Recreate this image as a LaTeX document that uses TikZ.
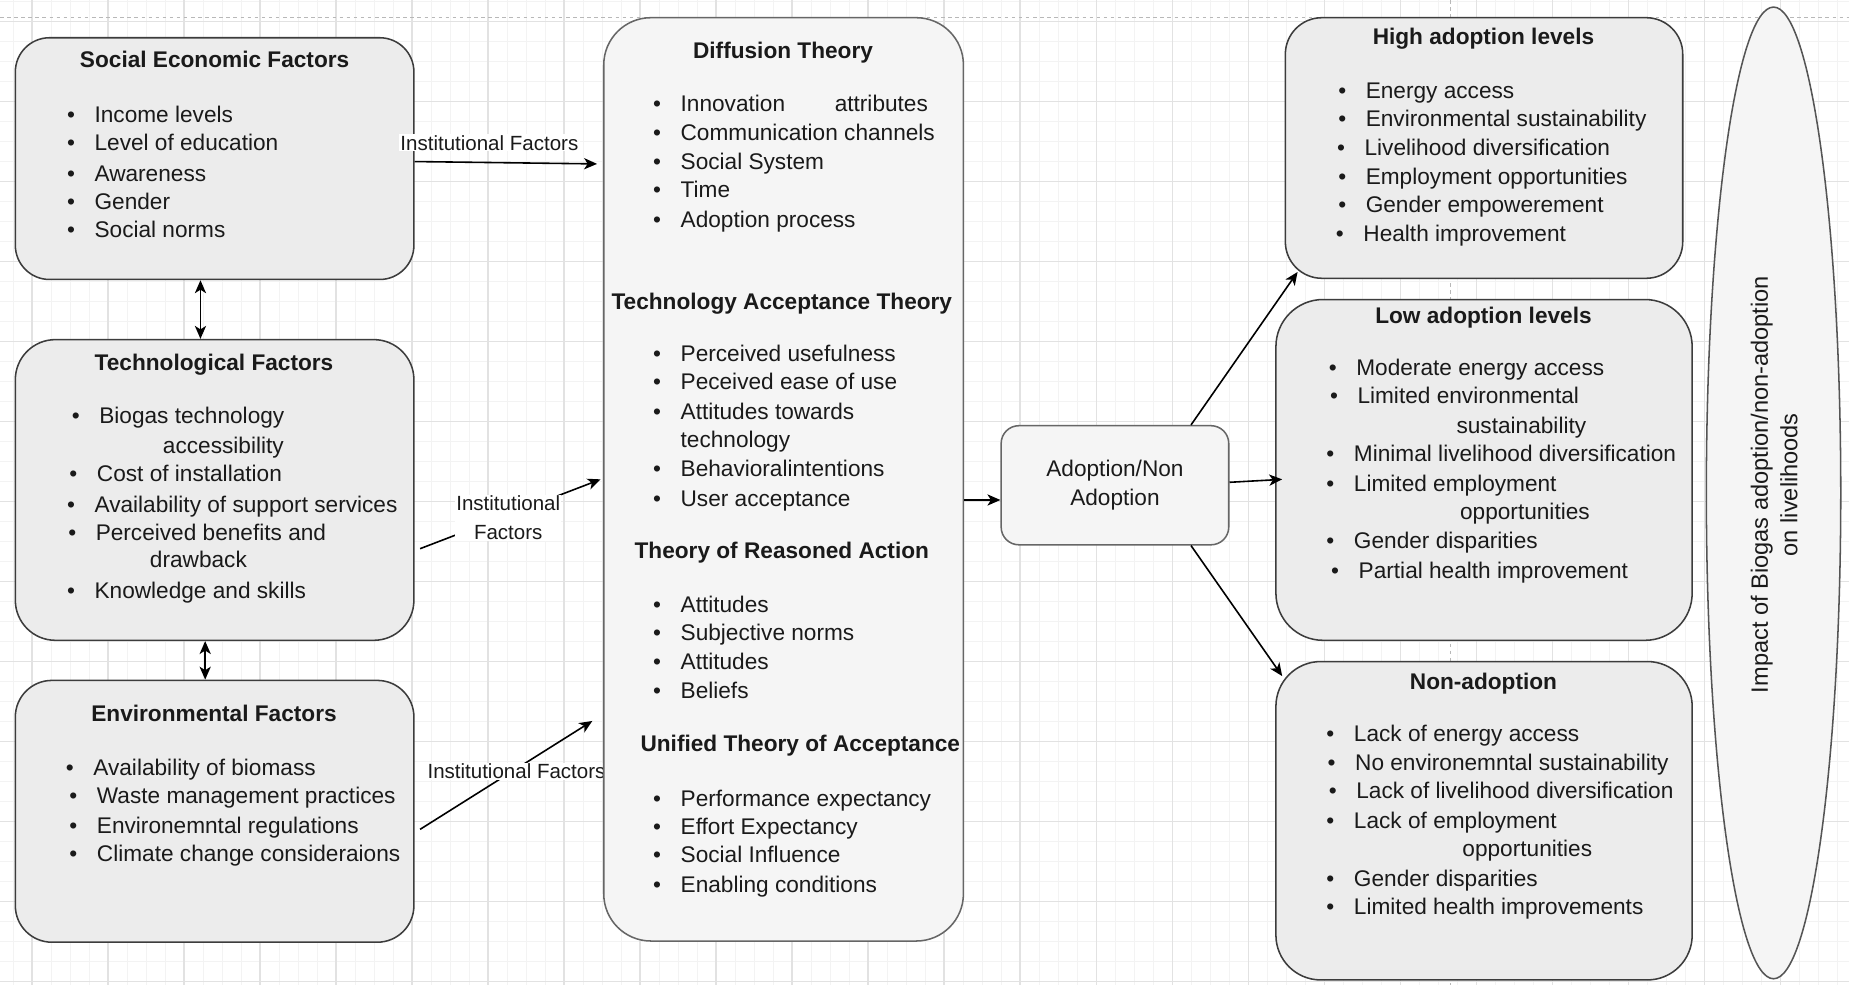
\documentclass[tikz,border=0pt]{standalone}
\usepackage{fontspec}
\setmainfont{Liberation Sans}
\usetikzlibrary{arrows.meta,calc,shapes.geometric}
\definecolor{boxfill}{HTML}{ECECEC}
\definecolor{boxline}{HTML}{3C3C3C}
\definecolor{lightfill}{HTML}{F5F5F5}
\definecolor{lightline}{HTML}{666666}
\definecolor{ellline}{HTML}{555555}
\definecolor{gmaj}{HTML}{E2E2E2}
\definecolor{gmin}{HTML}{F3F3F3}
\definecolor{pagebrk}{HTML}{B8B8B8}
\definecolor{txt}{HTML}{1A1A1A}
\newcommand\bodyfs{\fontsize{19.2}{24.5}\selectfont}
\newcommand\lblfs{\fontsize{17.4}{24}\selectfont}
\pgfdeclarelayer{bg}
\pgfsetlayers{bg,main}
\begin{document}
\begin{tikzpicture}[x=1pt,y=-1pt,
  box/.style={draw=boxline,line width=1.3pt,fill=boxfill,inner sep=0pt},
  lbox/.style={draw=lightline,line width=1.3pt,fill=lightfill,inner sep=0pt},
  ttl/.style={anchor=base,font=\bodyfs\bfseries,inner sep=0pt,yshift=-6.5pt,text=txt},
  itm/.style={anchor=base west,font=\bodyfs,inner sep=0pt,yshift=-6.5pt,text=txt,
    execute at begin node={\llap{\textbullet\hspace{16.6pt}}}},
  itc/.style={anchor=base west,font=\bodyfs,inner sep=0pt,yshift=-6.5pt,text=txt},
  tip/.style={Stealth[length=11pt,width=9.5pt,inset=3pt]},
  arr/.style={-{Stealth[length=11pt,width=9.5pt,inset=3pt]},line width=1.35pt,draw=black},
  darr/.style={{Stealth[length=11pt,width=9.5pt,inset=3pt]}-{Stealth[length=11pt,width=9.5pt,inset=3pt]},line width=1.35pt,draw=black},
  lbl/.style={font=\lblfs,fill=white,inner sep=1pt,text=txt,align=center}
]
\useasboundingbox (0,0) rectangle (1568,835);

% ---------- background grid ----------
\begin{pgfonlayer}{bg}
\fill[white] (0,0) rectangle (1568,835);
\begin{scope}
\clip (0,0) rectangle (1568,835);
\foreach \i in {0,...,110} \draw[gmin,line width=0.6pt] ({-101.75+\i*16.1125},0) -- ++(0,835);
\foreach \i in {0,...,56} \draw[gmin,line width=0.6pt] (0,{-49.46+\i*16.96}) -- ++(1568,0);
\foreach \i in {0,...,27} \draw[gmaj,line width=0.9pt] ({-101.75+\i*64.45},0) -- ++(0,835);
\foreach \i in {0,...,14} \draw[gmaj,line width=0.9pt] (0,{-49.46+\i*67.84}) -- ++(1568,0);
\draw[pagebrk,dashed,line width=0.8pt] (0,15) -- (1568,15);
\draw[pagebrk,dashed,line width=0.8pt] (1230,0) -- (1230,835);
\end{scope}
\end{pgfonlayer}

% ---------- left column ----------
\node[box,rounded corners=29pt,minimum width=338pt,minimum height=205pt] (soc) at (182,134.5) {};
\node[ttl] (soct) at (182,51) {Social Economic Factors};
\foreach \y/\t [count=\i] in {97/Income levels,121/Level of education,147/Awareness,171/Gender,195/Social norms}
  \node[itm] (se\i) at (80,\y) {\t};

\node[box,rounded corners=34pt,minimum width=338pt,minimum height=255pt] (tech) at (182,415.5) {};
\node[ttl] (techt) at (181.5,308) {Technological Factors};
\foreach \x/\y/\t [count=\i] in {84/353/Biogas technology,82/402/Cost of installation,80/428/Availability of support services,81/452/Perceived benefits and,80/501/Knowledge and skills}
  \node[itm] (te\i) at (\x,\y) {\t};
\node[itc] (tec1) at (138,378) {accessibility};
\node[itc] (tec2) at (127,475) {drawback};

\node[box,rounded corners=31pt,minimum width=338pt,minimum height=222pt] (env) at (182,688) {};
\node[ttl] (envt) at (181.5,605) {Environmental Factors};
\foreach \x/\y/\t [count=\i] in {79/651/Availability of biomass,82/675/Waste management practices,82/700/Environemntal regulations,82/724/Climate change consideraions}
  \node[itm] (en\i) at (\x,\y) {\t};

\draw[darr] ($(soc.south)+(-12,0)$) -- ($(tech.north)+(-12,0)$);
\draw[darr] ($(tech.south)+(-8,0)$) -- ($(env.north)+(-8,0)$);

% bottom institutional connector (label partly hidden by the theory box)
\coordinate (if3end) at (502.3,611.4);
\draw[arr] ($(env.east)+(4.6,15.3)$) -- (if3end);
\node[lbl] (if3) at (438,654) {Institutional Factors};

% ---------- theories ----------
\node[lbox,rounded corners=40pt,minimum width=305pt,minimum height=783pt] (diff) at (664.5,406.5) {};
\node[ttl] (dt1) at (664,43) {Diffusion Theory};
\node[itm] (d1) at (577,88) {\hbox to 209.7pt{Innovation\hfill attributes}};
\foreach \y/\t [count=\i from 2] in {113/Communication channels,137/Social System,161/Time,186/Adoption process}
  \node[itm] (d\i) at (577,\y) {\t};
\node[ttl] (dt2) at (663,256) {Technology Acceptance Theory};
\foreach \y/\t [count=\i] in {300/Perceived usefulness,324/Peceived ease of use,349/Attitudes towards,398/Behavioralintentions,423/User acceptance}
  \node[itm] (ta\i) at (577,\y) {\t};
\node[itc] (tac) at (577,373) {technology};
\node[ttl] (dt3) at (663,467) {Theory of Reasoned Action};
\foreach \y/\t [count=\i] in {513/Attitudes,537/Subjective norms,561/Attitudes,586/Beliefs}
  \node[itm] (tr\i) at (577,\y) {\t};
\node[ttl,anchor=base west] (dt4) at (543,631) {Unified Theory of Acceptance};
\foreach \y/\t [count=\i] in {677/Performance expectancy,701/Effort Expectancy,725/Social Influence,750/Enabling conditions}
  \node[itm] (ut\i) at (577,\y) {\t};

% top and middle institutional connectors
\draw[arr] ($(soc.east)+(0,2.5)$) -- ($(diff.west)+(-5,-267.5)$);
\node[lbl] (if1) at (415,121) {Institutional Factors};
\draw[arr] ($(tech.east)+(4.6,49.8)$) -- ($(diff.west)+(-2,0)$);
\node[lbl] (if2) at (431,439) {Institutional\\Factors};

% ---------- adoption ----------
\node[lbox,rounded corners=15pt,minimum width=193pt,minimum height=101pt,
      font=\bodyfs,align=center,text=txt] (ado) at (945.5,411.5) {Adoption/Non\\Adoption};

% ---------- outcome boxes ----------
\node[box,rounded corners=31pt,minimum width=337pt,minimum height=221pt] (high) at (1258.5,125.5) {};
\node[ttl] (hight) at (1258,31) {High adoption levels};
\foreach \x/\y/\t [count=\i] in {1158/77/Energy access,1158/101/Environmental sustainability,1157/125/Livelihood diversification,1158/150/Employment opportunities,1158/174/Gender empowerement,1156/198/Health improvement}
  \node[itm] (hi\i) at (\x,\y) {\t};

\node[box,rounded corners=40pt,minimum width=353pt,minimum height=289pt] (low) at (1258.5,398.5) {};
\node[ttl] (lowt) at (1258,268) {Low adoption levels};
\foreach \x/\y/\t [count=\i] in {1150/312/Moderate energy access,1151/336/Limited environmental,1148/385/Minimal livelihood diversification,1148/410/Limited employment,1148/459/Gender disparities,1152/484/Partial health improvement}
  \node[itm] (lo\i) at (\x,\y) {\t};
\node[itc] (loc1) at (1235,361) {sustainability};
\node[itc] (loc2) at (1238,434) {opportunities};

\node[box,rounded corners=38pt,minimum width=353pt,minimum height=270pt] (non) at (1258.5,696) {};
\node[ttl] (nont) at (1258,578) {Non-adoption};
\foreach \x/\y/\t [count=\i] in {1148/622/Lack of energy access,1149/647/No environemntal sustainability,1150/671/Lack of livelihood diversification,1148/696/Lack of employment,1148/745/Gender disparities,1148/769/Limited health improvements}
  \node[itm] (no\i) at (\x,\y) {\t};
\node[itc] (noc1) at (1240,720) {opportunities};

% ---------- impact ellipse ----------
\node[ellipse,draw=ellline,line width=1.3pt,fill=lightfill,minimum width=114pt,minimum height=824pt,inner sep=0pt] (imp) at (1504,418) {};
\node[rotate=90,font=\fontsize{20}{25}\selectfont,align=center,text=txt] (impt) at (1504.5,411) {Impact of Biogas adoption/non-adoption\\on livelihoods};

% ---------- connectors ----------
\draw[arr] ($(diff.east)+(0,17.5)$) -- ($(ado.west)+(0,12.5)$);
\draw[arr] ($(ado.north)+(64.5,0)$) -- ($(high.south west)+(11,-6)$);
\draw[arr] ($(ado.east)+(0,-2.5)$) -- ($(low.west)+(6,8)$);
\draw[arr] ($(ado.south)+(64.5,0)$) -- ($(non.north west)+(6,13)$);
\end{tikzpicture}
\end{document}
